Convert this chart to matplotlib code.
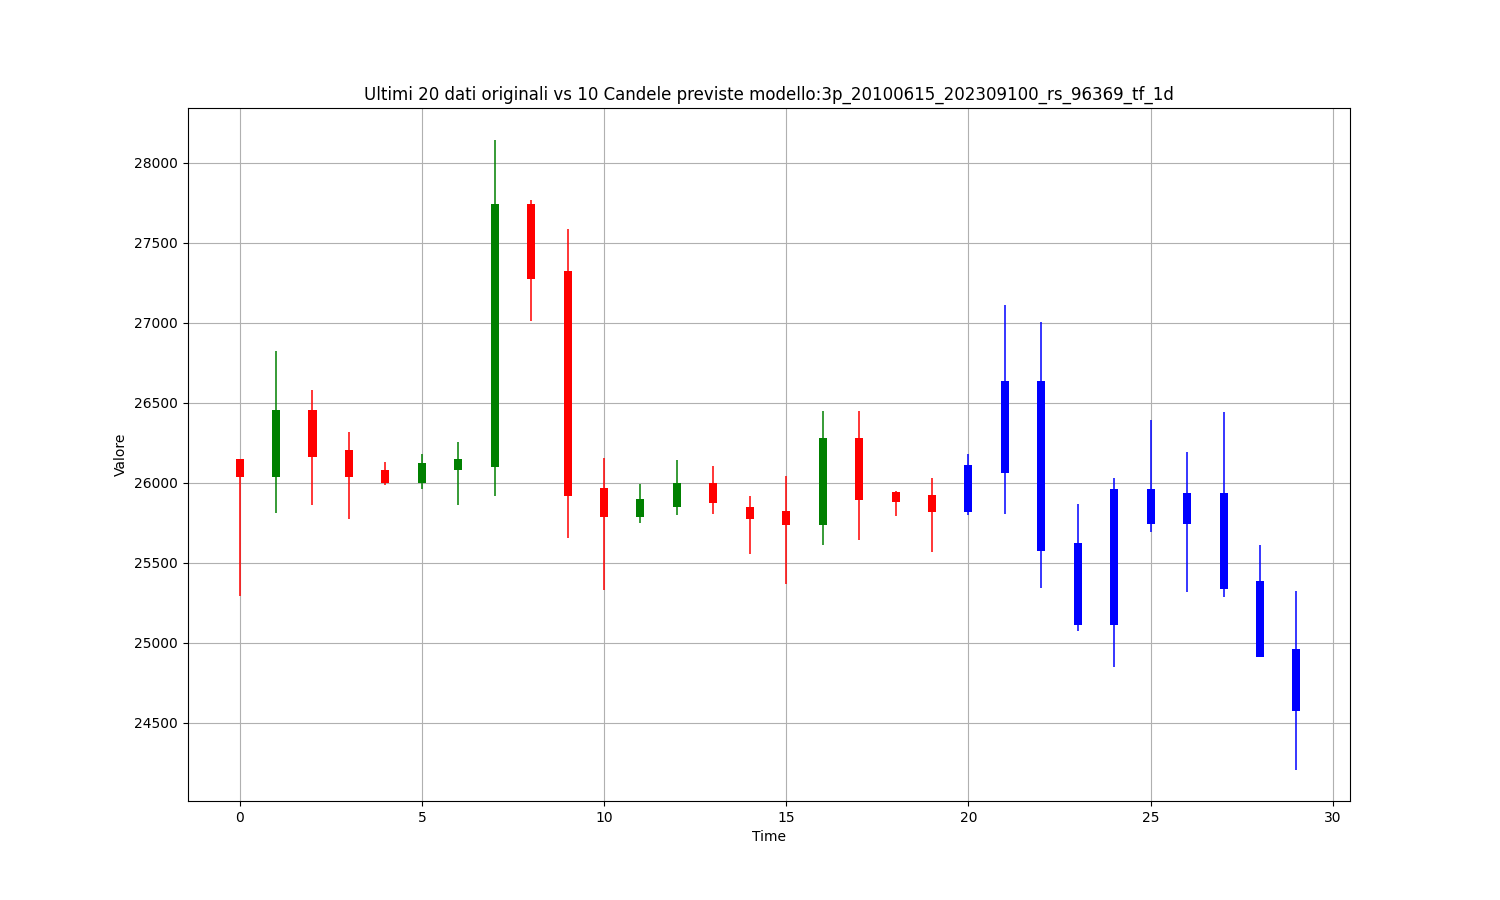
import matplotlib
matplotlib.use("Agg")
import matplotlib.pyplot as plt
import numpy as np

# Original candles (0..19) and predicted candles (20..29)
opens = [26152, 26035, 26458, 26208, 26083, 25996, 26079, 26098, 27740, 27323,
         25965, 25785, 25848, 25996, 25852, 25821, 25735, 26283, 25940, 25927,
         25817, 26063, 26634, 25624, 25109, 25743, 25936, 25936, 25387, 24963]
closes = [26035, 26458, 26160, 26035, 25996, 26127, 26146, 27740, 27275, 25917,
          25785, 25896, 25996, 25873, 25773, 25735, 26283, 25892, 25879, 25817,
          26111, 26634, 25574, 25109, 25961, 25961, 25743, 25337, 24914, 24577]
highs = [26152, 26821, 26583, 26315, 26129, 26183, 26258, 28145, 27765, 27585,
         26158, 25990, 26142, 26108, 25917, 26042, 26446, 26446, 25948, 26033,
         26179, 27110, 27004, 25867, 26030, 26391, 26192, 26441, 25614, 25325]
lows = [25296, 25810, 25860, 25773, 25985, 25960, 25860, 25917, 27011, 25655,
        25329, 25746, 25796, 25808, 25558, 25365, 25610, 25640, 25792, 25567,
        25801, 25805, 25344, 25072, 24851, 25693, 25319, 25288, 24914, 24209]
n_original = 20

x = np.arange(len(opens))
o = np.array(opens, float)
c = np.array(closes, float)
h = np.array(highs, float)
l = np.array(lows, float)

colors = []
for i in range(len(o)):
    if i >= n_original:
        colors.append("blue")
    elif c[i] >= o[i]:
        colors.append("green")
    else:
        colors.append("red")

fig, ax = plt.subplots(figsize=(15, 9), dpi=100)
width = 0.22
body_bottom = np.minimum(o, c)
body_top = np.maximum(o, c)
ax.vlines(x, l, h, colors=colors, linewidth=1.1, zorder=3)
ax.bar(x, body_top - body_bottom, width, bottom=body_bottom, color=colors, zorder=4)

span = h.max() - l.min()
ax.set_ylim(l.min() - 0.05 * span, h.max() + 0.05 * span)
ax.set_xlim(-1.43, 30.47)
ax.set_title("Ultimi 20 dati originali vs 10 Candele previste modello:3p_20100615_202309100_rs_96369_tf_1d")
ax.set_xlabel("Time")
ax.set_ylabel("Valore")
ax.grid(True, zorder=0)
ax.set_axisbelow(True)

fig.savefig("out.png")
